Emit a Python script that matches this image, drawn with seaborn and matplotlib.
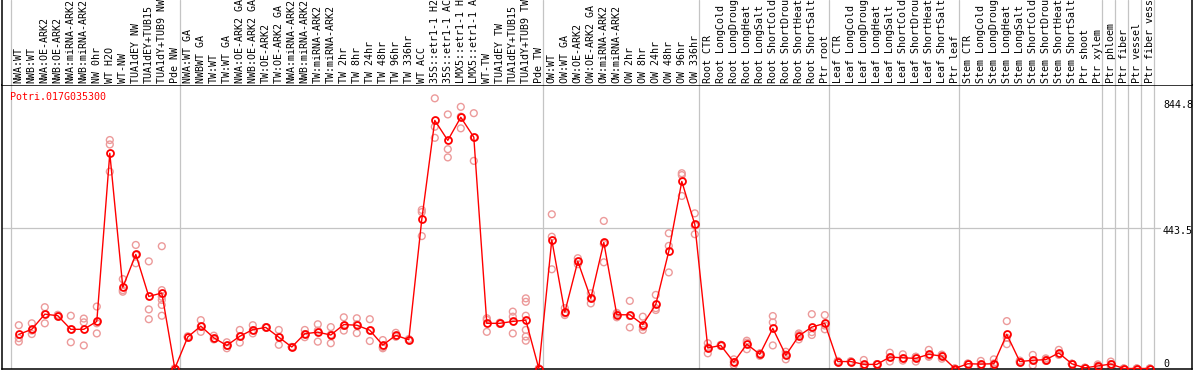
import numpy as np
import pandas as pd
import matplotlib
matplotlib.use("Agg")
import matplotlib.pyplot as plt
import seaborn as sns

# sample names, grouped as in the original layout
group_nw = ["NWA:WT", "NWB:WT", "NWA:OE-ARK2", "NWB:OE-ARK2", "NWA:miRNA-ARK2", "NWB:miRNA-ARK2",
            "NW 0hr", "WT H2O", "WT-NW", "TUA1dEY NW", "TUA1dEY+TUB15", "TUA1dY+TUB9 NW", "Pde NW"]
group_tw = ["NWA:WT GA", "NWBWT GA", "TW:WT", "TW:WT GA", "NWA:OE-ARK2 GA", "NWB:OE-ARK2 GA",
            "TW:OE-ARK2", "TW:OE-ARK2 GA", "NWA:miRNA-ARK2", "NWB:miRNA-ARK2", "TW:miRNA-ARK2",
            "TW:miRNA-ARK2", "TW 2hr", "TW 8hr", "TW 24hr", "TW 48hr", "TW 96hr", "TW 336hr",
            "WT ACC", "35S::etr1-1 H2O", "35S::etr1-1 ACC", "LMX5::etr1-1 H2O", "LMX5::etr1-1 ACC",
            "WT-TW", "TUA1dEY TW", "TUA1dEY+TUB15", "TUA1dY+TUB9 TW", "Pde TW"]
group_ow = ["OW:WT", "OW:WT GA", "OW:OE-ARK2", "OW:OE-ARK2 GA", "OW:miRNA-ARK2", "OW:miRNA-ARK2",
            "OW 2hr", "OW 8hr", "OW 24hr", "OW 48hr", "OW 96hr", "OW 336hr"]
stress = ["CTR", "LongCold", "LongDrought", "LongHeat", "LongSalt",
          "ShortCold", "ShortDrought", "ShortHeat", "ShortSalt"]
group_root = ["Root " + s for s in stress] + ["Ptr root"]
group_leaf = ["Leaf " + s for s in stress] + ["Ptr leaf"]
group_stem = ["Stem " + s for s in stress] + ["Ptr shoot", "Ptr xylem"]
group_tissue = ["Ptr phloem", "Ptr fiber", "Ptr vessel", "Ptr fiber vessel"]

groups = [group_nw, group_tw, group_ow, group_root, group_leaf, group_stem] + [[t] for t in group_tissue]
labels = [s for g in groups for s in g]

gene = "Potri.017G035300"
y_ticks = [844.8, 443.5, 0]

# mean expression per sample
means = [108, 124, 172, 167, 124, 124, 149, 681, 257, 361, 228, 239, 0,
         100, 134, 97, 73, 102, 123, 130, 99, 68, 110, 115, 106, 139, 137, 121, 74, 105, 91,
         472, 785, 722, 795, 732, 143, 143, 149, 153, 0,
         407, 178, 339, 222, 399, 170, 170, 139, 203, 371, 592, 456,
         65, 73, 20, 77, 45, 127, 42, 103, 131, 143,
         22, 22, 13, 13, 36, 34, 32, 45, 39, 0,
         15, 14, 15, 108, 22, 26, 28, 49, 15, 2, 8,
         14, 0, 0, 0]

# replicate values per sample
reps = [[137, 96, 85], [143, 120, 109], [194, 172, 143], [170, 167, 164], [167, 124, 83],
        [158, 146, 73], [196, 143, 111], [723, 709, 623], [283, 248, 243], [391, 333, 359],
        [339, 187, 156], [387, 248, 227, 217, 201, 167], [0, 0, 0],
        [98, 100, 102], [153, 116, 133], [104, 92, 95], [83, 64, 72], [122, 82, 102],
        [137, 111, 121], [131, 130, 129], [122, 75, 100], [68, 68, 68], [122, 99, 109],
        [140, 85, 120], [131, 80, 107], [162, 120, 135], [159, 112, 140], [156, 87, 120],
        [90, 64, 68], [113, 101, 101], [93, 91, 89],
        [502, 495, 419], [855, 765, 730], [804, 694, 668], [828, 797, 760], [808, 657, 731],
        [159, 116, 154], [145, 141, 143], [180, 164, 111], [222, 211, 167, 122, 101, 88], [0, 0, 0],
        [488, 417, 314], [191, 169, 174], [349, 338, 330], [238, 206, 222], [467, 336, 394],
        [172, 162, 176], [214, 130, 166], [164, 122, 131], [233, 191, 185], [428, 388, 304],
        [618, 546, 612], [491, 425, 452],
        [80, 48, 67], [75, 73, 71], [20, 11, 29], [88, 61, 82], [48, 40, 47], [166, 146, 73],
        [53, 29, 44], [111, 92, 106], [172, 106, 115], [169, 124, 136],
        [24, 22, 20], [23, 22, 21], [27, 10, 2], [14, 13, 12], [50, 22, 36], [45, 25, 32],
        [37, 22, 37], [59, 37, 39], [42, 31, 44], [0, 0, 0],
        [16, 15, 14], [24, 8, 13], [29, 0, 16], [150, 77, 97], [22, 25, 19], [43, 10, 25],
        [32, 28, 24], [59, 43, 45], [15, 15, 15], [3, 2, 1], [13, 2, 9],
        [22, 14, 6], [0, 0, 0], [0, 0, 0], [0, 0, 0]]

mean_df = pd.DataFrame({"x": np.arange(len(labels)), "value": means})
rep_df = pd.DataFrame([(i, v) for i, r in enumerate(reps) for v in r], columns=["x", "value"])

sns.set_style("white")
plt.rcParams["font.family"] = ["DejaVu Sans Mono"]

W, H = 1194, 370
fig = plt.figure(figsize=(W / 100, H / 100), dpi=100)

# pixel geometry of the original
left_px, right_px = 1.5, 1192.0
top_px, bottom_px = 85.0, 369.0
x0_px, step_px = 18.8, 13.0
zero_px, unit_px = 368.5, 0.316

ax = fig.add_axes([left_px / W, (H - bottom_px) / H, (right_px - left_px) / W, (bottom_px - top_px) / H])
lab_ax = fig.add_axes([left_px / W, (H - top_px) / H, (right_px - left_px) / W, top_px / H], sharex=ax)

xlim = ((left_px - x0_px) / step_px, (right_px - x0_px) / step_px)
ax.set_xlim(*xlim)
ax.set_ylim((zero_px - bottom_px) / unit_px, (zero_px - top_px) / unit_px)
lab_ax.set_ylim(0, 1)

for a in (ax, lab_ax):
    a.set_xticks([])
    a.set_yticks([])
    a.set_xlabel("")
    a.set_ylabel("")
    for s in a.spines.values():
        s.set_color("black")
        s.set_linewidth(1.1)
lab_ax.spines["top"].set_visible(False)
lab_ax.spines["bottom"].set_visible(False)

# group separators
grid_col = "#c4c4c4"
start = 0
bounds = [0]
for g in groups:
    start += len(g)
    bounds.append(start)
sep_off = (10.5 - x0_px) / step_px
for b in bounds:
    for a in (ax, lab_ax):
        a.axvline(b + sep_off, color=grid_col, lw=0.9, zorder=0)

# horizontal grid at middle tick
grid_end = (1160 - left_px) / (right_px - left_px)
ax.axhline(y_ticks[1], xmin=0, xmax=grid_end, color=grid_col, lw=0.9, zorder=0)

# replicates and means
sns.scatterplot(data=rep_df, x="x", y="value", ax=ax, marker="o", s=24,
                facecolors="none", edgecolor="#ec9a9a", linewidth=1.0, legend=False, zorder=2)
sns.lineplot(data=mean_df, x="x", y="value", ax=ax, color="red", lw=1.0,
             marker="o", ms=5, mfc="none", mec="red", mew=1.3, zorder=3)
ax.set_xlabel("")
ax.set_ylabel("")

# sample labels
for i, lab in enumerate(labels):
    lab_ax.text(i, 2.0 / top_px, lab, rotation=90, ha="center", va="bottom",
                fontsize=7.2, color="black", clip_on=False)

# gene id
ax.text((10 - left_px) / (right_px - left_px), 1 - (97 - top_px) / (bottom_px - top_px), gene,
        transform=ax.transAxes, ha="left", va="center", color="red", fontsize=7.2)

# value labels at right
tx = (1163 - left_px) / (right_px - left_px)
offsets = [-3.5, -2.5, 4.5]
for v, off in zip(y_ticks, offsets):
    ax.annotate(f"{v:g}", xy=(tx, v), xycoords=("axes fraction", "data"),
                xytext=(0, off * 0.72), textcoords="offset points",
                ha="left", va="center", fontsize=7.2, color="black")

fig.savefig("out.png", dpi=100, facecolor="white")
